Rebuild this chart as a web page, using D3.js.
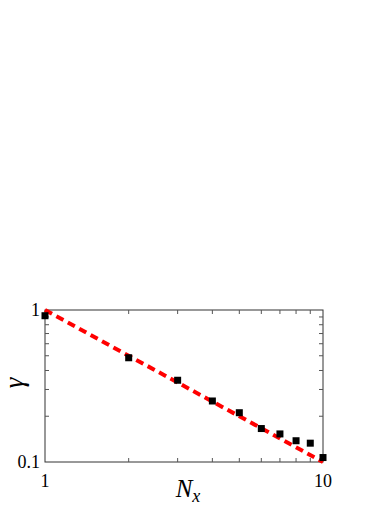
<!DOCTYPE html>
<html>
<head>
<meta charset="utf-8">
<script src="https://cdn.jsdelivr.net/npm/d3@7"></script>
<style>
body { margin: 0; background: #fff; }
</style>
</head>
<body>
<script>
// data
var nx = [1, 2, 3, 4, 5, 6, 7, 8, 9, 10];
var gamma = [0.917, 0.485, 0.345, 0.252, 0.211, 0.166, 0.153, 0.138, 0.133, 0.107];
var fitX = [1, 10];
var fitY = [1, 0.1];
var xTickLabels = [1, 10];
var yTickLabels = [1, 0.1];
var minorX = [2, 3, 4, 5, 6, 7, 8, 9];
var minorY = [0.2, 0.3, 0.4, 0.5, 0.6, 0.7, 0.8, 0.9];

var width = 392, height = 508;
var plotLeft = 45, plotRight = 323, plotTop = 310, plotBottom = 462;
var serif = "'Liberation Serif', 'Times New Roman', 'DejaVu Serif', serif";

var svg = d3.select("body").append("svg")
  .attr("width", width)
  .attr("height", height)
  .style("font-family", serif);

var x = d3.scaleLog().domain([1, 10]).range([plotLeft, plotRight]);
var y = d3.scaleLog().domain([0.1, 1]).range([plotBottom, plotTop]);

// frame
svg.append("rect")
  .attr("x", plotLeft).attr("y", plotTop)
  .attr("width", plotRight - plotLeft).attr("height", plotBottom - plotTop)
  .attr("fill", "none").attr("stroke", "#333").attr("stroke-width", 1);

// inward minor ticks
var tl = 4;
var tickG = svg.append("g").attr("stroke", "#555").attr("stroke-width", 1);
minorX.forEach(function(v) {
  tickG.append("line").attr("x1", x(v)).attr("x2", x(v)).attr("y1", plotBottom).attr("y2", plotBottom - tl);
  tickG.append("line").attr("x1", x(v)).attr("x2", x(v)).attr("y1", plotTop).attr("y2", plotTop + tl);
});
minorY.forEach(function(v) {
  tickG.append("line").attr("y1", y(v)).attr("y2", y(v)).attr("x1", plotLeft).attr("x2", plotLeft + tl);
  tickG.append("line").attr("y1", y(v)).attr("y2", y(v)).attr("x1", plotRight).attr("x2", plotRight - tl);
});

// tick labels
svg.selectAll(".xl").data(xTickLabels).enter().append("text")
  .attr("x", function(d) { return x(d); })
  .attr("y", plotBottom + 25)
  .attr("text-anchor", "middle")
  .attr("font-size", 18)
  .text(function(d) { return d; });

svg.selectAll(".yl").data(yTickLabels).enter().append("text")
  .attr("x", plotLeft - 5)
  .attr("y", function(d) { return y(d) + 6; })
  .attr("text-anchor", "end")
  .attr("font-size", 18)
  .text(function(d) { return d; });

// fit line
var line = d3.line()
  .x(function(d) { return x(d[0]); })
  .y(function(d) { return y(d[1]); });
svg.append("path")
  .datum(d3.zip(fitX, fitY))
  .attr("d", line)
  .attr("fill", "none")
  .attr("stroke", "#ff0000")
  .attr("stroke-width", 4)
  .attr("stroke-dasharray", "8,5");

// data squares
var s = 7;
svg.selectAll(".pt").data(d3.zip(nx, gamma)).enter().append("rect")
  .attr("x", function(d) { return x(d[0]) - s / 2; })
  .attr("y", function(d) { return y(d[1]) - s / 2; })
  .attr("width", s).attr("height", s)
  .attr("fill", "#000");

// axis titles (gamma is drawn rotated, like the original)
svg.append("text")
  .attr("transform", "translate(23,383) rotate(-90)")
  .attr("text-anchor", "middle")
  .attr("font-size", 27)
  .attr("font-style", "italic")
  .text("γ");

var xt = svg.append("text")
  .attr("x", 188).attr("y", 497)
  .attr("text-anchor", "middle")
  .attr("font-size", 25)
  .attr("font-style", "italic");
xt.append("tspan").text("N");
xt.append("tspan").attr("font-size", 18).attr("dy", 5).text("x");
</script>
</body>
</html>
